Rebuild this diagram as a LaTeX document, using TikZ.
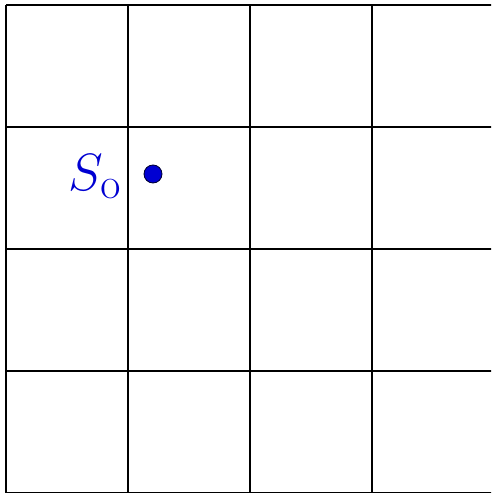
\documentclass[tikz,border=0pt]{standalone}
\begin{document}
\begin{tikzpicture}[x=0.02cm,y=0.02cm,
  gridline/.style={line width=0.9pt,black},
  ptdot/.style={circle,fill={rgb,255:red,0;green,0;blue,210},draw=black!80!blue,line width=0.5pt,inner sep=0pt,minimum size=0.36cm},
  ptlabel/.style={text={rgb,255:red,0;green,0;blue,210},inner sep=0pt,font=\Huge,scale=1.2,transform shape}]
\useasboundingbox (0,0) rectangle (491,493);
\clip (0,0) rectangle (491,493);
\foreach \x in {6,128,250,372,494} \draw[gridline] (\x,-10) -- (\x,488);
\foreach \y in {0,122,244,366,488} \draw[gridline] (6,\y) -- (500,\y);
\node[ptdot] (S) at (153,319) {};
\node[ptlabel,anchor=base east] (L) at (122,302) {$S_\mathrm{o}$};
\end{tikzpicture}
\end{document}
